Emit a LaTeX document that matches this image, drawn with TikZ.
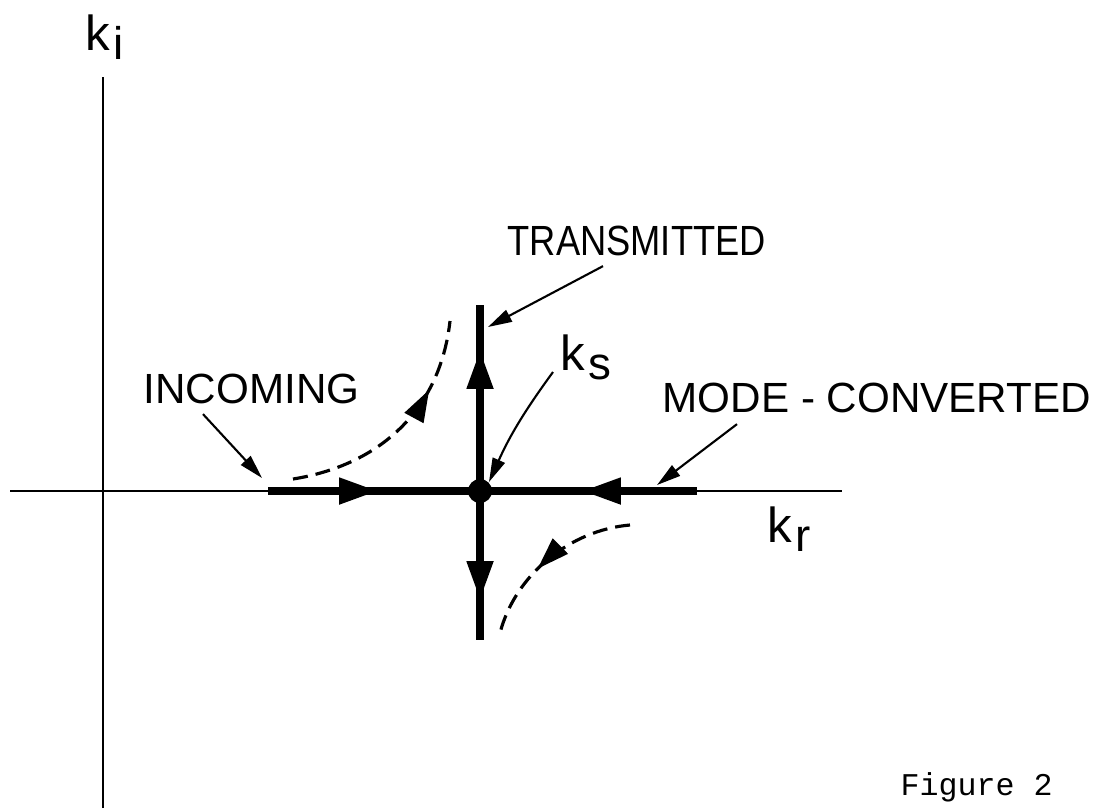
\documentclass[tikz,border=0pt]{standalone}
\usepackage{fontspec}
\setmainfont{Liberation Sans}
\newfontfamily\capfont{Liberation Mono}
\usetikzlibrary{arrows.meta, decorations.markings, positioning}
\newcommand{\ksub}[1]{k\kern0.8pt\raisebox{-2.8pt}{\fontsize{13}{13}\selectfont #1}}

\begin{document}
\begin{tikzpicture}[x=0.01cm, y=-0.01cm, >={Triangle[length=2.4mm, width=1.3mm]},
    lab/.style={font=\fontsize{12}{14}\selectfont, inner sep=0pt, anchor=base west},
    ksym/.style={font=\fontsize{14}{16}\selectfont, inner sep=0pt, anchor=base west},
    axis/.style={line width=0.8pt},
    heavy/.style={line width=2.2pt},
    pointer/.style={->, line width=0.6pt},
    flow/.style={line width=0.9pt, dash pattern=on 1.5mm off 0.8mm},
    midarrow/.style={postaction={decorate, decoration={markings,
        mark=at position #1 with {\arrow{Triangle[length=3.9mm, width=2.5mm]}}}}},
    flowarrow/.style={postaction={decorate, decoration={markings,
        mark=at position #1 with {\arrow{Triangle[length=3.2mm, width=2.1mm]}}}}}]
    \useasboundingbox (0,0) rectangle (1095,811);
    \coordinate (yb) at (103,808);
    \coordinate (yt) at (103,77);
    \coordinate (xl) at (10,491);
    \coordinate (xr) at (842,491);
    \draw[axis] (yb) -- (yt);
    \draw[axis] (xl) -- (xr);
    \coordinate (in) at (268,491);
    \coordinate (mc) at (697,491);
    \coordinate (tr) at (480,305);
    \coordinate (bt) at (480,640);
    \node[circle, fill, inner sep=0pt, minimum size=0.24cm] (ks) at (480,491) {};
    \draw[heavy, midarrow=1.1cm] (in) -- (ks.center);
    \draw[heavy, midarrow=1.15cm] (mc) -- (ks.center);
    \draw[heavy, midarrow=1.41cm] (ks.center) -- (tr);
    \draw[heavy, midarrow=1.09cm] (ks.center) -- (bt);
    \coordinate (up0) at (293,479);
    \coordinate (up1) at (450,321);
    \coordinate (dn0) at (630,525);
    \coordinate (dn1) at (500,633);
    \draw[flow, flowarrow=0.7] (up0) .. controls (380,465) and (440,410) .. (up1);
    \draw[flow, flowarrow=0.58] (dn0) .. controls (570,530) and (515,575) .. (dn1);
    \node[lab] (inc) at (143,403) {INCOMING};
    \node[lab] (trn) at (507,255) {\scalebox{0.86}[1]{TRANSMITTED}};
    \node[lab] (mod) at (662,412) {MODE - CONVERTED};
    \node[ksym] (ki) at (85,50) {\ksub{i}};
    \node[ksym] (kslab) at (560,370) {\ksub{s}};
    \node[ksym] (kr) at (767,542) {\ksub{r}};
    \node[font=\capfont\fontsize{9}{11}\selectfont, inner sep=0pt, anchor=base west] (fig) at (900,795) {Figure 2};
    \draw[pointer] ([shift={(60,10)}]inc.south west) -- ([shift={(-6,-13)}]in);
    \draw[pointer] ([shift={(96,10)}]trn.south west) -- ([shift={(8,22)}]tr);
    \draw[pointer] ([shift={(-7,2)}]kslab.base west) to[bend right=6] (ks.north east);
    \draw[pointer] ([shift={(75,11)}]mod.south west) -- ([shift={(-40,-6)}]mc);
\end{tikzpicture}
\end{document}
